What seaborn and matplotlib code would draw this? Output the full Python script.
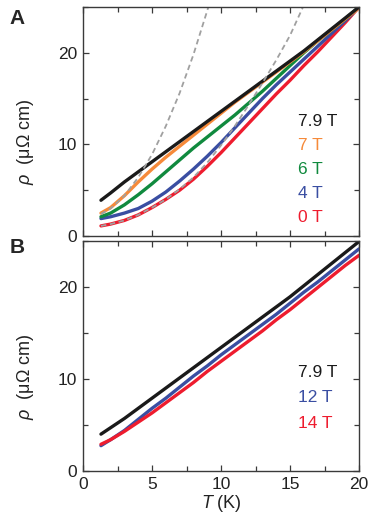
import numpy as np
import pandas as pd
import matplotlib
matplotlib.use('Agg')
import matplotlib.pyplot as plt
import seaborn as sns
from matplotlib.ticker import MultipleLocator

# Temperature grid (K)
temps = [1.3, 2, 3, 4, 5, 6, 7, 8, 9, 10, 11, 12, 13, 14, 15, 16, 17, 18, 19, 20]

# Panel A: resistivity (uOhm cm) by field
rho_a_79 = [3.9, 4.7, 5.9, 7.0, 8.1, 9.2, 10.3, 11.4, 12.5, 13.6, 14.7, 15.8, 16.9, 18.0, 19.1, 20.2, 21.4, 22.6, 23.8, 25.0]
rho_a_7 = [2.5, 3.1, 4.4, 5.9, 7.3, 8.6, 9.8, 11.0, 12.2, 13.4, 14.6, 15.7, 16.8, 17.9, 19.0, 20.1, 21.3, 22.5, 23.7, 24.9]
rho_a_6 = [2.1, 2.5, 3.4, 4.5, 5.7, 7.0, 8.3, 9.6, 10.8, 12.0, 13.2, 14.5, 15.8, 17.2, 18.6, 20.0, 21.3, 22.5, 23.7, 25.0]
rho_a_4 = [1.9, 2.1, 2.5, 3.0, 3.8, 4.8, 6.0, 7.3, 8.7, 10.2, 11.8, 13.4, 15.0, 16.5, 17.9, 19.3, 20.7, 22.1, 23.5, 25.0]
rho_a_0 = [1.1, 1.3, 1.7, 2.3, 3.1, 4.0, 5.0, 6.2, 7.6, 9.1, 10.7, 12.3, 13.9, 15.5, 17.0, 18.6, 20.1, 21.7, 23.3, 25.0]

# Panel A: dashed fits
fit1_T = [1.3, 2, 3, 4, 5, 6, 7, 8, 9, 9.2]
fit1_rho = [2.4, 3.0, 4.4, 6.4, 8.9, 12.0, 15.6, 19.8, 24.6, 25.6]
fit2_T = [1.3, 2, 3, 4, 5, 6, 7, 8, 9, 10, 11, 12, 13, 14, 15, 16]
fit2_rho = [1.1, 1.3, 1.7, 2.3, 3.1, 4.0, 5.1, 6.4, 8.0, 9.9, 12.0, 14.3, 16.7, 19.2, 21.9, 25.2]

# Panel B
rho_b_79 = [4.0, 4.7, 5.7, 6.8, 7.9, 9.0, 10.1, 11.2, 12.3, 13.4, 14.5, 15.6, 16.7, 17.8, 18.9, 20.1, 21.3, 22.5, 23.7, 24.9]
rho_b_12 = [2.75, 3.4, 4.4, 5.6, 6.8, 7.9, 9.1, 10.3, 11.4, 12.6, 13.7, 14.8, 15.9, 17.0, 18.2, 19.4, 20.5, 21.7, 22.9, 24.1]
rho_b_14 = [2.9, 3.4, 4.3, 5.3, 6.3, 7.4, 8.5, 9.6, 10.8, 11.9, 13.0, 14.1, 15.2, 16.4, 17.5, 18.7, 19.9, 21.1, 22.3, 23.4]

fields_a = ['0 T', '4 T', '6 T', '7 T', '7.9 T']
colors_a = ['#ee1c2e', '#3a4ea2', '#108a3e', '#f68a3a', '#1a1a1a']
fields_b = ['12 T', '14 T', '7.9 T']
colors_b = ['#3a4ea2', '#ee1c2e', '#1a1a1a']

df_a = pd.DataFrame({
    'T': temps * 5,
    'rho': rho_a_0 + rho_a_4 + rho_a_6 + rho_a_7 + rho_a_79,
    'field': sum([[f] * len(temps) for f in fields_a], []),
})
df_b = pd.DataFrame({
    'T': temps * 3,
    'rho': rho_b_12 + rho_b_14 + rho_b_79,
    'field': sum([[f] * len(temps) for f in fields_b], []),
})

sns.set_theme(style='ticks')
plt.rcParams['font.family'] = ['Liberation Sans', 'DejaVu Sans']
plt.rcParams['mathtext.fontset'] = 'custom'
plt.rcParams['mathtext.it'] = 'Liberation Sans:italic'
plt.rcParams['mathtext.rm'] = 'Liberation Sans'

fig = plt.figure(figsize=(3.74, 5.23), dpi=100)
ax_a = fig.add_axes([0.222, 0.5488, 0.738, 0.4378])
ax_b = fig.add_axes([0.222, 0.0994, 0.738, 0.4406])

sns.lineplot(data=df_a, x='T', y='rho', hue='field', hue_order=fields_a,
             palette=colors_a, lw=2.4, legend=False, estimator=None, ax=ax_a)
for tt, rr in [(fit1_T, fit1_rho), (fit2_T, fit2_rho)]:
    sns.lineplot(x=tt, y=rr, color='#a0a0a0', lw=1.3, estimator=None, ax=ax_a)
    ax_a.lines[-1].set_dashes([3.0, 2.0])

sns.lineplot(data=df_b, x='T', y='rho', hue='field', hue_order=fields_b,
             palette=colors_b, lw=2.4, legend=False, estimator=None, ax=ax_b)

spine_c = '#3a3a3a'
txt_c = '#222222'
for ax in (ax_a, ax_b):
    ax.set_xlim(0, 20)
    ax.set_ylim(0, 25)
    ax.xaxis.set_major_locator(MultipleLocator(5))
    ax.xaxis.set_minor_locator(MultipleLocator(2.5))
    ax.yaxis.set_major_locator(MultipleLocator(10))
    ax.yaxis.set_minor_locator(MultipleLocator(5))
    ax.tick_params(which='both', direction='in', top=True, right=True,
                   color=spine_c, width=0.9, labelsize=12.5, labelcolor=txt_c, pad=4)
    ax.tick_params(which='major', length=4.5)
    ax.tick_params(which='minor', length=3.5)
    for s in ax.spines.values():
        s.set_color(spine_c)
        s.set_linewidth(1.0)
    ax.set_ylabel(r'$\rho$  (μΩ cm)', fontsize=13, color=txt_c)
    ax.yaxis.set_label_coords(-0.17, 0.41)
    ax.set_xlabel('')

ax_a.tick_params(labelbottom=False)
ax_b.set_xlabel(r'$T$ (K)', fontsize=13, color=txt_c, labelpad=1)

for i, (lab, c) in enumerate(zip(fields_a[::-1], colors_a[::-1])):
    ax_a.text(0.778, 0.502 - i * 0.105, lab, color=c, fontsize=12.5,
              transform=ax_a.transAxes, va='center', ha='left')
for i, (lab, c) in enumerate(zip(['7.9 T', '12 T', '14 T'], ['#1a1a1a', '#3a4ea2', '#ee1c2e'])):
    ax_b.text(0.778, 0.428 - i * 0.11, lab, color=c, fontsize=12.5,
              transform=ax_b.transAxes, va='center', ha='left')

fig.text(0.025, 0.964, 'A', fontsize=15, fontweight='bold', va='center')
fig.text(0.025, 0.526, 'B', fontsize=15, fontweight='bold', va='center')

fig.savefig('out.png', dpi=100)
